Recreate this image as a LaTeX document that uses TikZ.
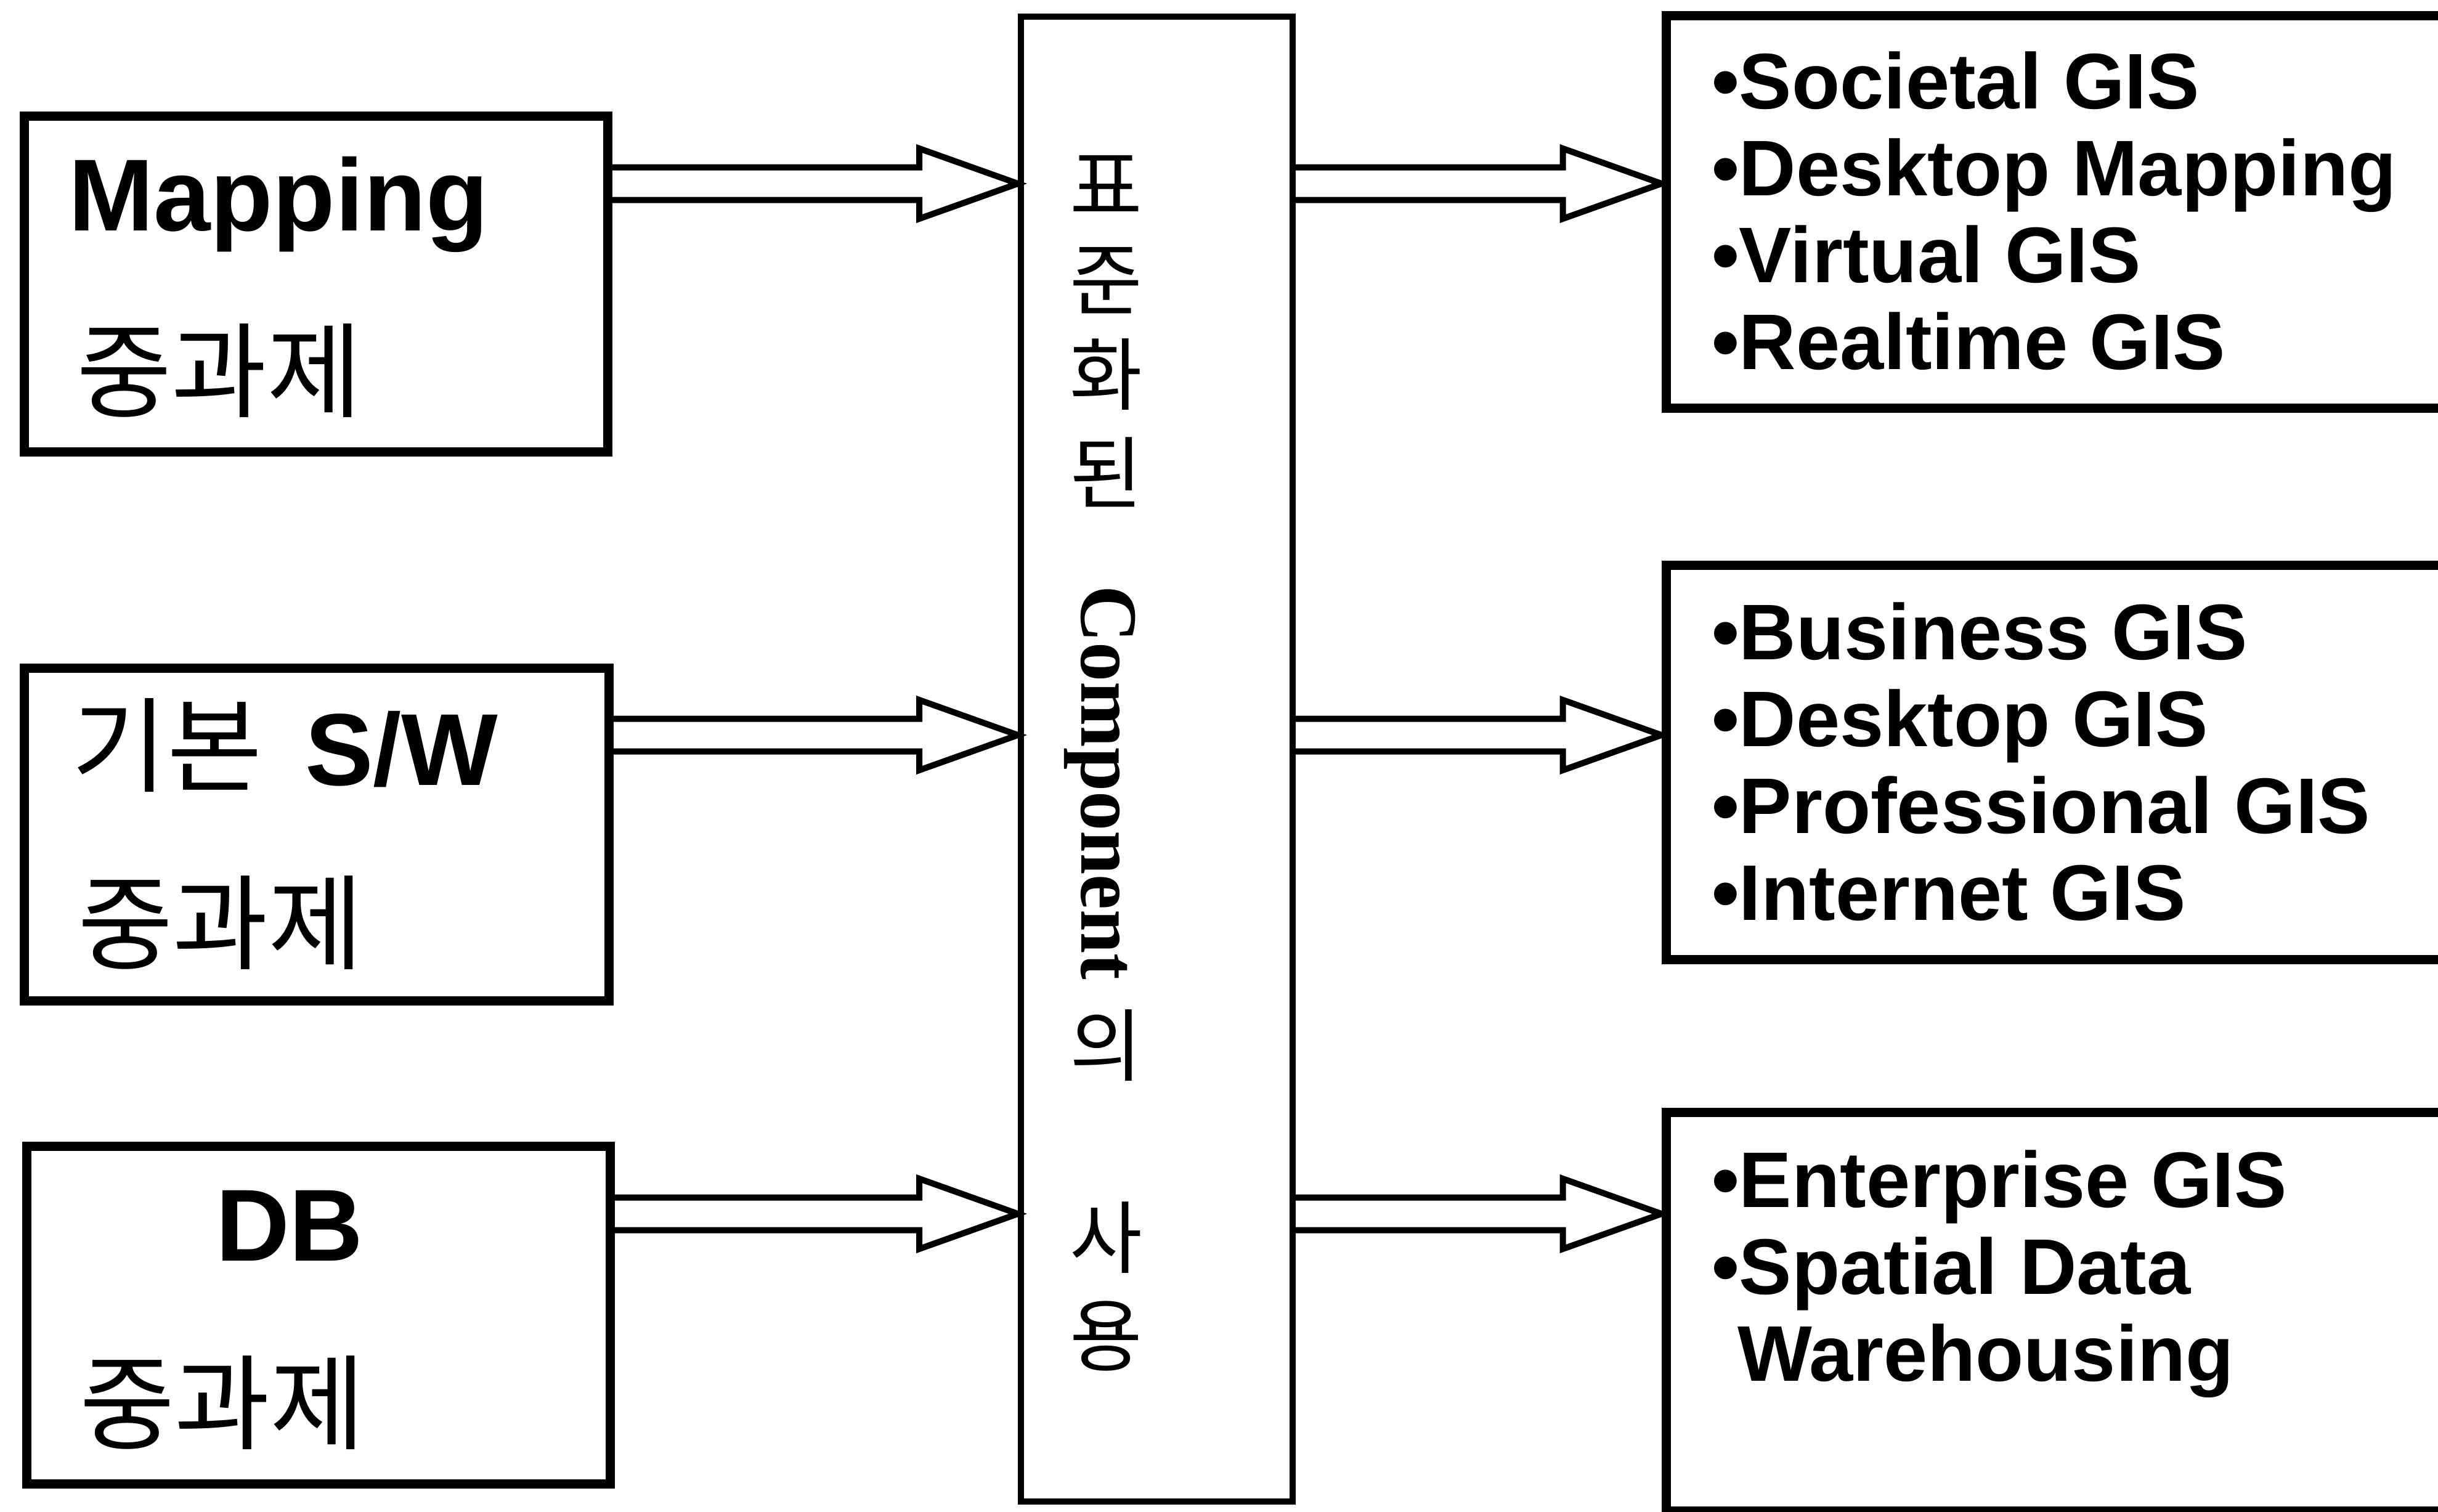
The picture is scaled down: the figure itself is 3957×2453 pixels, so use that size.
\documentclass[tikz,border=0pt]{standalone}
\usepackage{fontspec}
\setmainfont{Liberation Sans}
\newfontfamily\krfont{Noto Sans CJK KR}
\newfontfamily\romanfont{Liberation Serif}
\usetikzlibrary{calc}

\tikzset{
  leftbox/.style={draw, line width=1.5mm, inner sep=0pt},
  midbox/.style={draw, line width=1.0mm, inner sep=0pt},
  outbox/.style={draw, line width=1.5mm, inner sep=0pt},
  txt/.style={inner sep=0pt, outer sep=0pt},
  bigtxt/.style={txt, font=\bfseries\fontsize{16.6mm}{16.6mm}\selectfont},
  kortxt/.style={txt, font=\krfont\fontsize{16.8mm}{16.8mm}\selectfont},
  listtxt/.style={txt, font=\bfseries\fontsize{12.8mm}{14.1mm}\selectfont},
  vchar/.style={txt, font=\krfont\fontsize{12.8mm}{12.8mm}\selectfont},
  vlatin/.style={txt, font=\romanfont\bfseries\fontsize{13.2mm}{13.2mm}\selectfont,
                 rotate=-90, anchor=base west},
  % open block arrow: two shaft lines and a pointed head
  hollowarrow/.style={line width=1.0mm, line join=miter,
    to path={let \p1=(\tikztostart), \p2=(\tikztotarget) in
      ($(\p1)+(0,-26.5)$) -- ($(\p2)+(-160,-26.5)$) -- ($(\p2)+(-160,-57)$)
      -- (\p2) -- ($(\p2)+(-160,57)$) -- ($(\p2)+(-160,26.5)$) -- ($(\p1)+(0,26.5)$)}}
}

\begin{document}
\begin{tikzpicture}[x=0.1mm, y=-0.1mm]
  \useasboundingbox (0,0) rectangle (3957,2453);
  \fill[white] (0,0) rectangle (3957,2453);
  \clip (0,0) rectangle (3957,2453);

  % rows of the arrows
  \coordinate (row1) at (0,298);
  \coordinate (row2) at (0,1193);
  \coordinate (row3) at (0,1970);

  % input boxes
  \node[leftbox, minimum width=94.7mm, minimum height=54.5mm] (mapbox) at (513,461) {};
  \node[leftbox, minimum width=94.9mm, minimum height=54.0mm] (swbox)  at (514,1354.5) {};
  \node[leftbox, minimum width=94.7mm, minimum height=54.8mm] (dbbox)  at (517,2134.5) {};

  \node[bigtxt, anchor=base west] (mapt) at (111,374) {Mapping};
  \node[kortxt] (mapk) at (356,602) {중과제};

  \node[kortxt] (swk1) at (271,1210) {기본};
  \node[bigtxt, anchor=base west] (swt) at (495,1274) {S/W};
  \node[kortxt] (swk2) at (358,1498) {중과제};

  \node[bigtxt, anchor=base west] (dbt) at (350,2046) {DB};
  \node[kortxt] (dbk) at (361,2277) {중과제};

  % central column
  \node[midbox, minimum width=44.1mm, minimum height=241mm] (midbox) at (1877.5,1232) {};
  \foreach \ch/\yy [count=\i] in {표/300,준/455,화/608,된/766,의/1697,사/2009,용/2168}
    \node[vchar] (v\i) at (1795,\yy) {\ch};
  \node[vlatin] (comp) at (1755,950) {\scalebox{0.97}[1]{Component}};

  % output boxes (they run past the right margin)
  \node[outbox, minimum width=139.6mm, minimum height=63.7mm] (out1) at (3402,344) {};
  \node[outbox, minimum width=139.6mm, minimum height=64.0mm] (out2) at (3402,1237.5) {};
  \node[outbox, minimum width=139.6mm, minimum height=64.7mm] (out3) at (3402,2129) {};

  \node[listtxt, anchor=base west] (list1) at (2778,176)
    {\vtop{\hbox{•Societal GIS}\hbox{•Desktop Mapping}\hbox{•Virtual GIS}\hbox{•Realtime GIS}}};
  \node[listtxt, anchor=base west] (list2) at (2778,1070)
    {\vtop{\hbox{•Business GIS}\hbox{•Desktop GIS}\hbox{•Professional GIS}\hbox{•Internet GIS}}};
  \node[listtxt, anchor=base west] (list3) at (2778,1959)
    {\vtop{\hbox{•Enterprise GIS}\hbox{•Spatial Data}\hbox{\kern4.2mm Warehousing}}};

  % connectors
  \draw[hollowarrow] (mapbox.east |- row1) to (midbox.west |- row1);
  \draw[hollowarrow] (swbox.east |- row2) to (midbox.west |- row2);
  \draw[hollowarrow] (dbbox.east |- row3) to (midbox.west |- row3);
  \draw[hollowarrow] (midbox.east |- row1) to (out1.west |- row1);
  \draw[hollowarrow] (midbox.east |- row2) to (out2.west |- row2);
  \draw[hollowarrow] (midbox.east |- row3) to (out3.west |- row3);
\end{tikzpicture}
\end{document}
